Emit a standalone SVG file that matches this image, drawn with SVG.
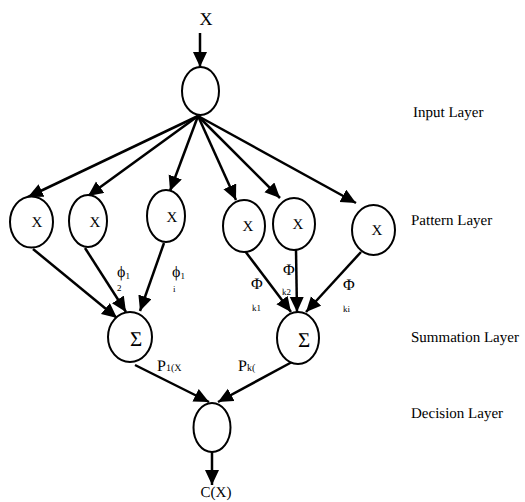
<svg xmlns="http://www.w3.org/2000/svg" width="525" height="502" viewBox="0 0 525 502">
<style>
.n{fill:#fff;stroke:#000;stroke-width:2}
.c{fill:none;stroke:#000;stroke-width:2.5;marker-end:url(#ah)}
text{font-family:"Liberation Serif","Times New Roman",serif;fill:#000;text-rendering:geometricPrecision}
.lbl{font-size:15px}
.nx{font-size:15px;text-anchor:middle}
.sg{font-size:21px;text-anchor:middle}
.ph{font-size:16px}
.sb{font-size:9px}
</style>
<defs>
<marker id="ah" markerUnits="userSpaceOnUse" markerWidth="16" markerHeight="15" refX="15" refY="7" orient="auto">
<path d="M0,0 L15,7 L0,14 z" fill="#000"/>
</marker>
</defs>
<g id="connectors">
<line class="c" x1="200" y1="33" x2="200" y2="67"/>
<line class="c" x1="198" y1="116" x2="28" y2="197"/>
<line class="c" x1="198" y1="116" x2="88" y2="196"/>
<line class="c" x1="198" y1="116" x2="170" y2="191"/>
<line class="c" x1="198" y1="116" x2="236" y2="200"/>
<line class="c" x1="198" y1="116" x2="280" y2="198"/>
<line class="c" x1="198" y1="116" x2="356" y2="203"/>
<line class="c" x1="33" y1="249" x2="117" y2="318"/>
<line class="c" x1="85" y1="248" x2="126" y2="312"/>
<line class="c" x1="164" y1="243" x2="140" y2="311"/>
<line class="c" x1="245" y1="251" x2="291" y2="312"/>
<line class="c" x1="296" y1="250" x2="297" y2="312"/>
<line class="c" x1="361" y1="252" x2="306" y2="312"/>
<line class="c" x1="135" y1="365" x2="209" y2="402"/>
<line class="c" x1="292" y1="362" x2="218" y2="402"/>
<line class="c" x1="212" y1="452" x2="212" y2="485"/>
</g>
<g id="input-x"><text x="206" y="25" font-size="18" text-anchor="middle">X</text></g>
<g id="input"><ellipse class="n" cx="200.5" cy="91" rx="18.5" ry="24"/></g>
<g id="p1"><ellipse class="n" cx="31.5" cy="222" rx="21.5" ry="25.5"/><text class="nx" x="37" y="227">X</text></g>
<g id="p2"><ellipse class="n" cx="88" cy="221" rx="19" ry="26"/><text class="nx" x="95" y="227">X</text></g>
<g id="p3"><ellipse class="n" cx="166" cy="216" rx="19" ry="26"/><text class="nx" x="172" y="222">X</text></g>
<g id="p4"><ellipse class="n" cx="244" cy="226" rx="21" ry="26"/><text class="nx" x="248" y="231">X</text></g>
<g id="p5"><ellipse class="n" cx="294" cy="224" rx="21" ry="26"/><text class="nx" x="298" y="229">X</text></g>
<g id="p6"><ellipse class="n" cx="373.5" cy="230" rx="21.5" ry="25"/><text class="nx" x="377" y="235">X</text></g>
<g id="s1"><ellipse class="n" cx="130" cy="337" rx="22" ry="25"/><text class="sg" x="136" y="346">Σ</text></g>
<g id="s2"><ellipse class="n" cx="298" cy="338" rx="21" ry="26"/><text class="sg" x="304" y="347">Σ</text></g>
<g id="decision"><ellipse class="n" cx="212" cy="427.5" rx="18.5" ry="24.5"/></g>
<g id="output"><text x="216" y="497" font-size="15" text-anchor="middle">C(X)</text></g>
<g id="weights">
<text class="ph" x="117" y="277">ϕ<tspan class="sb" dy="2">1</tspan></text>
<text class="sb" x="117" y="291">2</text>
<text class="ph" x="172" y="277">ϕ<tspan class="sb" dy="2">1</tspan></text>
<text class="sb" x="173" y="292">i</text>
<text class="ph" x="251" y="289">Φ</text>
<text class="sb" x="252" y="311">k1</text>
<text class="ph" x="283" y="275">Φ</text>
<text class="sb" x="282" y="295">k2</text>
<text class="ph" x="343" y="290">Φ</text>
<text class="sb" x="343" y="312">ki</text>
<text x="157" y="371" font-size="16">P<tspan font-size="10">1(X</tspan></text>
<text x="238" y="371" font-size="16">P<tspan font-size="10">k(</tspan></text>
</g>
<g id="layers">
<text class="lbl" x="413" y="117">Input Layer</text>
<text class="lbl" x="411" y="225">Pattern Layer</text>
<text class="lbl" x="411" y="342">Summation Layer</text>
<text class="lbl" x="411" y="418">Decision Layer</text>
</g>
</svg>
